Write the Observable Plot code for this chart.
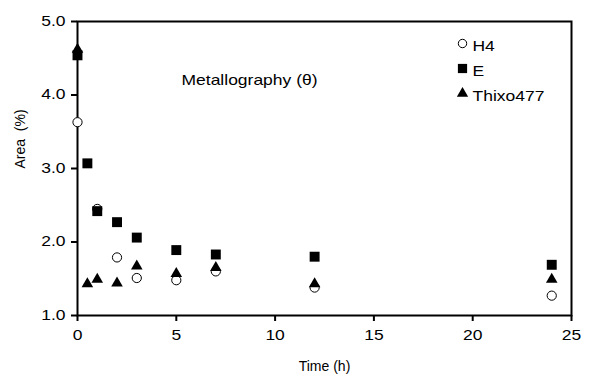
<!DOCTYPE html>
<html><head><meta charset="utf-8">
<script src="https://cdn.jsdelivr.net/npm/d3@7"></script>
<script src="https://cdn.jsdelivr.net/npm/@observablehq/plot@0.6"></script>
<style>body{margin:0;background:#fff} #chart svg{font-family:"Liberation Sans",Arial,sans-serif}</style>
</head><body><div id="chart"></div>
<script>
const timesH4 = [0, 1, 2, 3, 5, 7, 12, 24];
const valuesH4 = [3.63, 2.45, 1.79, 1.51, 1.48, 1.60, 1.38, 1.27];
const timesE = [0, 0.5, 1, 2, 3, 5, 7, 12, 24];
const valuesE = [4.54, 3.07, 2.42, 2.27, 2.06, 1.89, 1.83, 1.80, 1.69];
const timesThixo = [0, 0.5, 1, 2, 3, 5, 7, 12, 24];
const valuesThixo = [4.62, 1.43, 1.49, 1.44, 1.67, 1.57, 1.65, 1.43, 1.49];
const seriesNames = ["H4", "E", "Thixo477"];
const xDomain = [0, 25];
const yDomain = [1, 5];
const xTicks = [0, 5, 10, 15, 20, 25];
const yTicks = [1, 2, 3, 4, 5];
const xTitle = "Time (h)";
const yTitle = "Area  (%)";
const annotation = "Metallography (θ)";

const h4 = timesH4.map((t, i) => ({t, v: valuesH4[i]}));
const e = timesE.map((t, i) => ({t, v: valuesE[i]}));
const th = timesThixo.map((t, i) => ({t, v: valuesThixo[i]}));

const chart = Plot.plot({
  width: 599, height: 381,
  marginLeft: 77, marginRight: 28, marginTop: 21, marginBottom: 66,
  x: {domain: xDomain, axis: null},
  y: {domain: yDomain, axis: null},
  marks: [
    Plot.frame({stroke: "black", strokeWidth: 2}),
    Plot.ruleX(xTicks, {x: d => d, y1: () => yDomain[0], y2: () => yDomain[0], insetBottom: -6, stroke: "black", strokeWidth: 2}),
    Plot.ruleY(yTicks, {y: d => d, x1: () => xDomain[0], x2: () => xDomain[0], insetLeft: -6, stroke: "black", strokeWidth: 2}),
    Plot.text(xTicks, {x: d => d, y: () => yDomain[0], text: d => String(d), dy: 20, fontSize: 14}),
    Plot.text(yTicks, {x: () => xDomain[0], y: d => d, text: d => d.toFixed(1), textAnchor: "end", dx: -12, fontSize: 14}),
    Plot.text([xTitle], {text: d => d, frameAnchor: "bottom", dy: 55, fontSize: 14}),
    Plot.text([yTitle], {text: d => d, frameAnchor: "left", dx: -57, rotate: -90, fontSize: 14}),
    Plot.dot(h4, {x: "t", y: "v", symbol: "circle", r: 4.6, fill: "white", stroke: "black", strokeWidth: 1}),
    Plot.dot(e, {x: "t", y: "v", symbol: "square", r: 5.6, fill: "black"}),
    Plot.dot(th, {x: "t", y: "v", symbol: "triangle", r: 4.3, fill: "black"}),
    Plot.text([annotation], {text: d => d, frameAnchor: "top-left", dx: 104, dy: 54, textAnchor: "start", fontSize: 14}),
    Plot.dot([seriesNames[0]], {frameAnchor: "top-left", dx: 385, dy: 22, symbol: "circle", r: 4.2, fill: "white", stroke: "black", strokeWidth: 1}),
    Plot.dot([seriesNames[1]], {frameAnchor: "top-left", dx: 385, dy: 47, symbol: "square", r: 5.2, fill: "black"}),
    Plot.dot([seriesNames[2]], {frameAnchor: "top-left", dx: 385, dy: 72, symbol: "triangle", r: 4.2, fill: "black"}),
    Plot.text([seriesNames[0]], {text: d => d, frameAnchor: "top-left", dx: 395, dy: 20, textAnchor: "start", fontSize: 14}),
    Plot.text([seriesNames[1]], {text: d => d, frameAnchor: "top-left", dx: 395, dy: 45, textAnchor: "start", fontSize: 14}),
    Plot.text([seriesNames[2]], {text: d => d, frameAnchor: "top-left", dx: 395, dy: 70, textAnchor: "start", fontSize: 14})
  ]
});
// the reference's lettering is horizontally wider: stretch tick labels and in-plot texts (not the axis titles)
d3.select(chart).selectAll('g[aria-label="text"] text')
  .filter(function() { return this.textContent !== xTitle && this.textContent !== yTitle; })
  .attr("transform", function() {
    const t = this.getAttribute("transform");
    return t ? t + " scale(1.25,1)" : "scale(1.25,1)";
  });
document.getElementById("chart").append(chart);
</script></body></html>
